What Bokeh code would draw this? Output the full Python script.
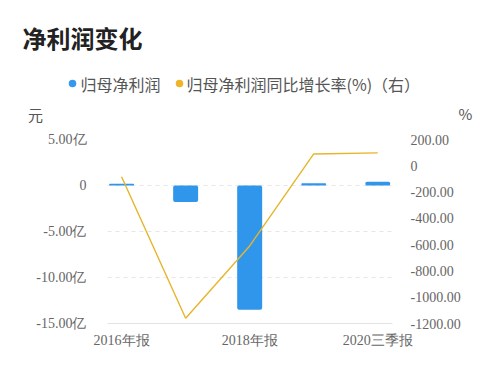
from bokeh.plotting import figure
from bokeh.models import Range1d, LinearAxis, FixedTicker
from bokeh.core.properties import value
from bokeh.embed import file_html
from bokeh.resources import INLINE

title = "净利润变化"
categories = ["2016年报", "2017年报", "2018年报", "2019年报", "2020三季报"]
series_names = ["归母净利润", "归母净利润同比增长率(%)（右）"]
series_colors = ["#3398ee", "#f0b429"]
net_profit = [0.18, -1.8, -13.5, 0.25, 0.4]          # 亿元
growth = [-84, -1160, -610, 90, 98]                   # %
left_unit, right_unit = "元", "%"
left_ticks = [5, 0, -5, -10, -15]
left_labels = ["5.00亿", "0", "-5.00亿", "-10.00亿", "-15.00亿"]
right_ticks = [200, 0, -200, -400, -600, -800, -1000, -1200]
right_labels = ["200.00", "0", "-200.00", "-400.00", "-600.00", "-800.00", "-1000.00", "-1200.00"]
shown_x = [0, 2, 4]

TICK_FONT = "Liberation Serif"
CJK = "Noto Sans CJK SC"
W = 484
HEAD_H = 125

# ---------- header (title, legend, units) ----------
h = figure(width=W, height=HEAD_H, output_backend="svg", toolbar_location=None,
           x_range=Range1d(0, W), y_range=Range1d(HEAD_H, 0),
           x_axis_location=None, y_axis_location=None, min_border=0)
h.outline_line_color = None
h.grid.visible = False
h.background_fill_color = "white"
h.border_fill_color = "white"

h.text(x=[22], y=[37], text=[title], text_font=value(CJK), text_font_size="24px",
       text_font_style="bold", text_color="#222222", text_baseline="middle", text_align="left")
h.scatter(x=[72, 179], y=[83, 83], size=7.5, marker="circle", fill_color=series_colors,
          line_color=None)
h.text(x=[80, 186], y=[83, 83], text=series_names, text_font=value(CJK), text_font_size="16px",
       text_color="#555555", text_baseline="middle", text_align="left")
h.text(x=[35], y=[114], text=[left_unit], text_font=value(CJK), text_font_size="15px",
       text_color="#555555", text_baseline="middle", text_align="center")
h.text(x=[465], y=[113], text=[right_unit], text_font=value(CJK), text_font_size="15px",
       text_color="#555555", text_baseline="middle", text_align="center")

# ---------- main chart ----------
xs = list(range(len(categories)))
p = figure(width=W, height=356 - HEAD_H, output_backend="svg", toolbar_location=None,
           x_range=Range1d(-0.22, 4.23), y_range=Range1d(-15, 5),
           min_border_left=107, min_border_right=92, min_border_top=139 - HEAD_H,
           min_border_bottom=33)
p.outline_line_color = None
p.background_fill_color = "white"
p.border_fill_color = "white"
p.extra_y_ranges = {"pct": Range1d(-1200, 200)}

p.vbar(x=xs, top=net_profit, bottom=0, width=0.39, fill_color="#2f96ec",
       line_color=None, border_radius=2)
p.line(x=xs, y=growth, y_range_name="pct", line_color="#e6b52a", line_width=1.4)

xa = p.xaxis[0]
xa.ticker = FixedTicker(ticks=shown_x)
xa.major_label_overrides = {i: categories[i] for i in shown_x}
xa.axis_line_color = "#e3e3e3"
xa.major_tick_line_color = None
xa.minor_tick_line_color = None
xa.major_label_text_font = TICK_FONT
xa.major_label_text_font_size = "14px"
xa.major_label_text_color = "#666666"
xa.major_label_standoff = 3

ya = p.yaxis[0]
ya.ticker = FixedTicker(ticks=left_ticks)
ya.major_label_overrides = dict(zip(left_ticks, left_labels))
ya.axis_line_color = None
ya.major_tick_line_color = None
ya.minor_tick_line_color = None
ya.major_label_text_font = TICK_FONT
ya.major_label_text_font_size = "14px"
ya.major_label_text_color = "#666666"
ya.major_label_standoff = 15

ra = LinearAxis(y_range_name="pct", ticker=FixedTicker(ticks=right_ticks))
ra.major_label_overrides = dict(zip(right_ticks, right_labels))
ra.axis_line_color = None
ra.major_tick_line_color = None
ra.minor_tick_line_color = None
ra.major_label_text_font = TICK_FONT
ra.major_label_text_font_size = "14px"
ra.major_label_text_color = "#666666"
ra.major_label_standoff = 12
p.add_layout(ra, "right")

p.xgrid.grid_line_color = None
p.ygrid.ticker = FixedTicker(ticks=left_ticks)
p.ygrid.grid_line_color = "#e6e6e6"
p.ygrid.grid_line_dash = "4 4"

open("out.html", "w").write(file_html([h, p], INLINE))
